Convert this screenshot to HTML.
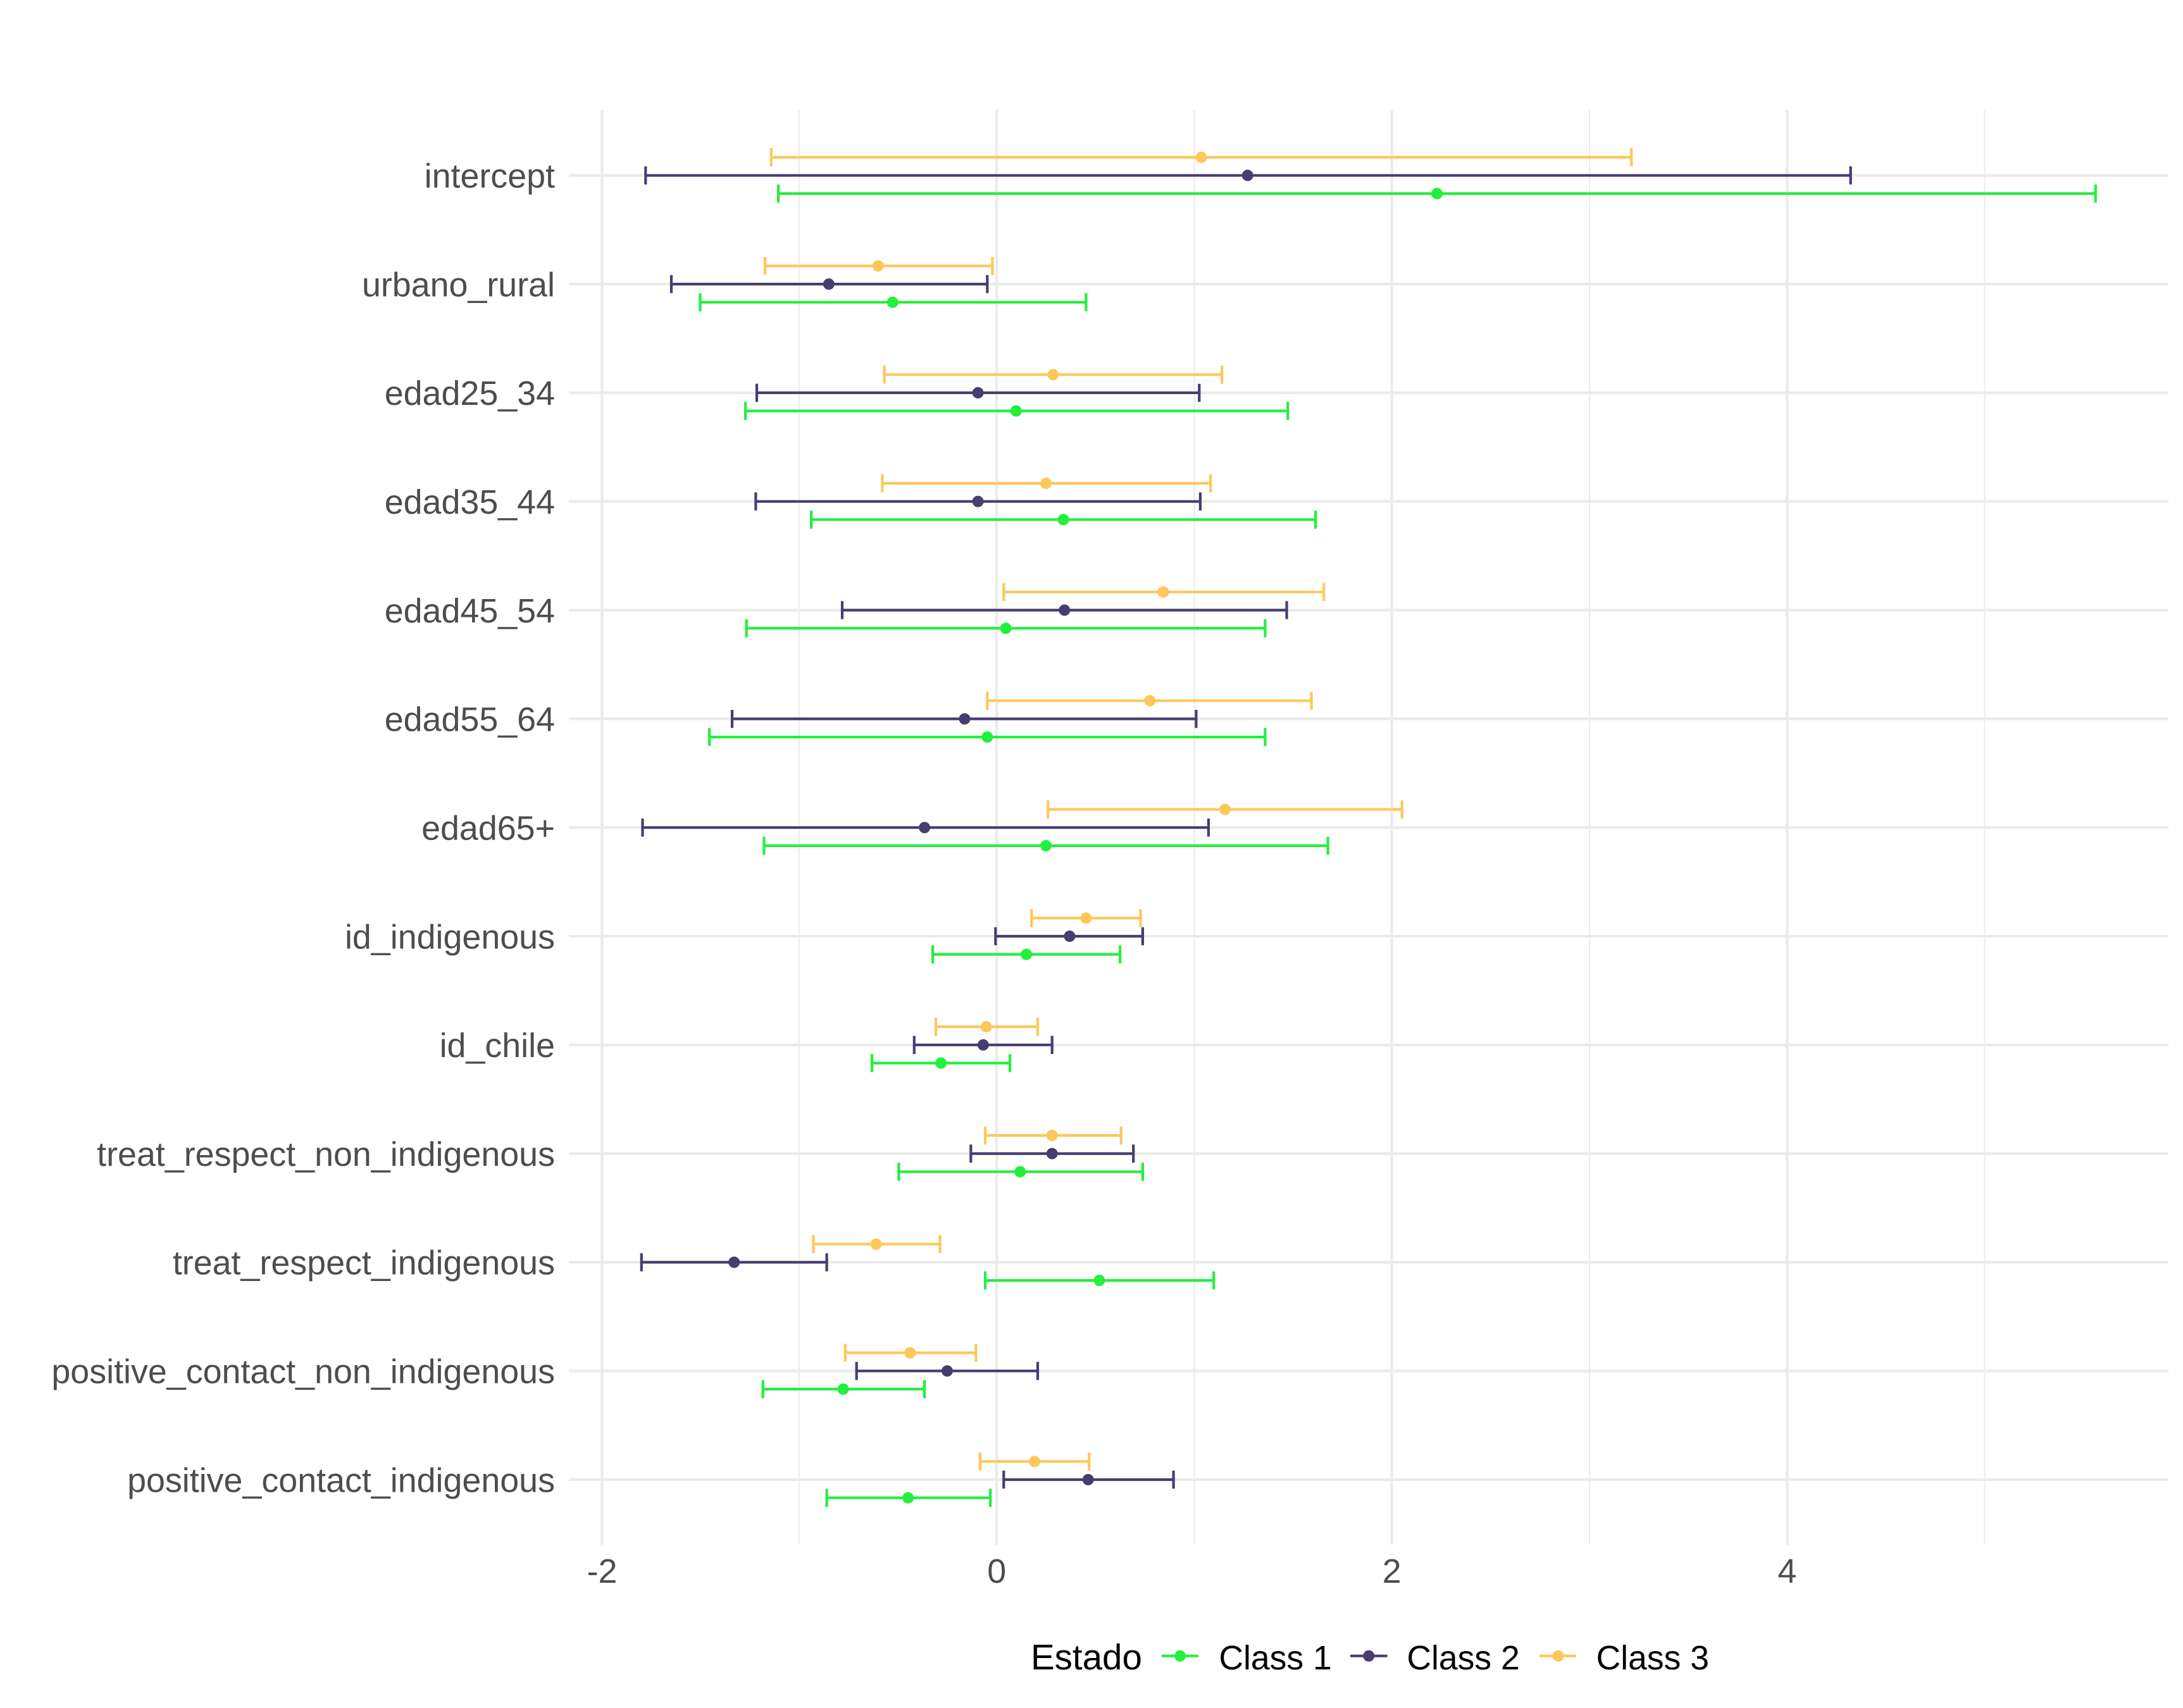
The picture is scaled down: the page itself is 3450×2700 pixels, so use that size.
<!DOCTYPE html>
<html>
<head>
<meta charset="utf-8">
<style>
html,body{margin:0;padding:0;background:#fff;}
svg{display:block;}
text{font-family:"Liberation Sans",Arial,Helvetica,sans-serif;}
</style>
</head>
<body>
<svg width="3450" height="2700" viewBox="0 0 3450 2700" xmlns="http://www.w3.org/2000/svg">
<rect x="0" y="0" width="3450" height="2700" fill="#ffffff"/>

<!-- minor vertical gridlines -->
<g stroke="#EBEBEB" stroke-width="2.1">
<line x1="1263.1" y1="174" x2="1263.1" y2="2442"/>
<line x1="1887.5" y1="174" x2="1887.5" y2="2442"/>
<line x1="2511.9" y1="174" x2="2511.9" y2="2442"/>
<line x1="3136.5" y1="174" x2="3136.5" y2="2442"/>
</g>
<!-- major vertical gridlines -->
<g stroke="#EBEBEB" stroke-width="4.3">
<line x1="951.5" y1="174" x2="951.5" y2="2442"/>
<line x1="1575.2" y1="174" x2="1575.2" y2="2442"/>
<line x1="2199.6" y1="174" x2="2199.6" y2="2442"/>
<line x1="2824.5" y1="174" x2="2824.5" y2="2442"/>
</g>
<!-- horizontal gridlines -->
<g stroke="#EBEBEB" stroke-width="4.3">
<line x1="899" y1="277.3" x2="3427" y2="277.3"/>
<line x1="899" y1="449.1" x2="3427" y2="449.1"/>
<line x1="899" y1="620.9" x2="3427" y2="620.9"/>
<line x1="899" y1="792.7" x2="3427" y2="792.7"/>
<line x1="899" y1="964.5" x2="3427" y2="964.5"/>
<line x1="899" y1="1136.4" x2="3427" y2="1136.4"/>
<line x1="899" y1="1308.2" x2="3427" y2="1308.2"/>
<line x1="899" y1="1480" x2="3427" y2="1480"/>
<line x1="899" y1="1651.8" x2="3427" y2="1651.8"/>
<line x1="899" y1="1823.6" x2="3427" y2="1823.6"/>
<line x1="899" y1="1995.4" x2="3427" y2="1995.4"/>
<line x1="899" y1="2167.2" x2="3427" y2="2167.2"/>
<line x1="899" y1="2339" x2="3427" y2="2339"/>
</g>

<!-- Class 1 (green) -->
<g stroke="#22F03C" stroke-width="4.2" fill="none">
<path d="M1230.1 291.7v28.6m0-14.3H3311.8m0-14.3v28.6"/>
<path d="M1106.5 463.5v28.6m0-14.3H1716.4m0-14.3v28.6"/>
<path d="M1178.1 635.3v28.6m0-14.3H2035.2m0-14.3v28.6"/>
<path d="M1282.2 807.1v28.6m0-14.3H2079.1m0-14.3v28.6"/>
<path d="M1179.7 978.9v28.6m0-14.3H1999.4m0-14.3v28.6"/>
<path d="M1121.2 1150.8v28.6m0-14.3H1999.4m0-14.3v28.6"/>
<path d="M1207.4 1322.6v28.6m0-14.3H2098.6m0-14.3v28.6"/>
<path d="M1474.1 1494.4v28.6m0-14.3H1770.1m0-14.3v28.6"/>
<path d="M1378.1 1666.2v28.6m0-14.3H1596.1m0-14.3v28.6"/>
<path d="M1420.4 1838.0v28.6m0-14.3H1805.9m0-14.3v28.6"/>
<path d="M1557.0 2009.8v28.6m0-14.3H1918.1m0-14.3v28.6"/>
<path d="M1205.7 2181.6v28.6m0-14.3H1461.1m0-14.3v28.6"/>
<path d="M1306.6 2353.4v28.6m0-14.3H1565.2m0-14.3v28.6"/>
</g>
<g fill="#22F03C">
<circle cx="2271.0" cy="306.0" r="9"/>
<circle cx="1410.7" cy="477.8" r="9"/>
<circle cx="1605.8" cy="649.6" r="9"/>
<circle cx="1680.6" cy="821.4" r="9"/>
<circle cx="1589.6" cy="993.2" r="9"/>
<circle cx="1560.3" cy="1165.1" r="9"/>
<circle cx="1653.0" cy="1336.9" r="9"/>
<circle cx="1622.1" cy="1508.7" r="9"/>
<circle cx="1487.1" cy="1680.5" r="9"/>
<circle cx="1612.3" cy="1852.3" r="9"/>
<circle cx="1737.5" cy="2024.1" r="9"/>
<circle cx="1332.6" cy="2195.9" r="9"/>
<circle cx="1435.1" cy="2367.7" r="9"/>
</g>

<!-- Class 2 (purple) -->
<g stroke="#483C71" stroke-width="4.2" fill="none">
<path d="M1020.3 263.0v28.6m0-14.3H2924.7m0-14.3v28.6"/>
<path d="M1061.0 434.8v28.6m0-14.3H1560.3m0-14.3v28.6"/>
<path d="M1196.0 606.6v28.6m0-14.3H1895.3m0-14.3v28.6"/>
<path d="M1194.4 778.4v28.6m0-14.3H1896.9m0-14.3v28.6"/>
<path d="M1331.0 950.2v28.6m0-14.3H2033.5m0-14.3v28.6"/>
<path d="M1157.0 1122.1v28.6m0-14.3H1890.4m0-14.3v28.6"/>
<path d="M1015.5 1293.9v28.6m0-14.3H1909.9m0-14.3v28.6"/>
<path d="M1573.3 1465.7v28.6m0-14.3H1805.9m0-14.3v28.6"/>
<path d="M1444.8 1637.5v28.6m0-14.3H1662.7m0-14.3v28.6"/>
<path d="M1534.3 1809.3v28.6m0-14.3H1791.2m0-14.3v28.6"/>
<path d="M1013.8 1981.1v28.6m0-14.3H1306.6m0-14.3v28.6"/>
<path d="M1353.7 2152.9v28.6m0-14.3H1640.0m0-14.3v28.6"/>
<path d="M1586.3 2324.7v28.6m0-14.3H1854.6m0-14.3v28.6"/>
</g>
<g fill="#483C71">
<circle cx="1971.7" cy="277.3" r="9"/>
<circle cx="1309.8" cy="449.1" r="9"/>
<circle cx="1545.6" cy="620.9" r="9"/>
<circle cx="1545.6" cy="792.7" r="9"/>
<circle cx="1682.3" cy="964.5" r="9"/>
<circle cx="1524.5" cy="1136.4" r="9"/>
<circle cx="1461.1" cy="1308.2" r="9"/>
<circle cx="1690.4" cy="1480.0" r="9"/>
<circle cx="1553.8" cy="1651.8" r="9"/>
<circle cx="1662.7" cy="1823.6" r="9"/>
<circle cx="1160.2" cy="1995.4" r="9"/>
<circle cx="1496.9" cy="2167.2" r="9"/>
<circle cx="1719.7" cy="2339.0" r="9"/>
</g>

<!-- Class 3 (yellow) -->
<g stroke="#FEC75A" stroke-width="4.2" fill="none">
<path d="M1218.8 234.3v28.6m0-14.3H2578.3m0-14.3v28.6"/>
<path d="M1209.0 406.1v28.6m0-14.3H1568.4m0-14.3v28.6"/>
<path d="M1397.6 577.9v28.6m0-14.3H1931.1m0-14.3v28.6"/>
<path d="M1394.4 749.7v28.6m0-14.3H1913.2m0-14.3v28.6"/>
<path d="M1586.3 921.5v28.6m0-14.3H2092.1m0-14.3v28.6"/>
<path d="M1560.3 1093.4v28.6m0-14.3H2072.6m0-14.3v28.6"/>
<path d="M1656.2 1265.2v28.6m0-14.3H2215.7m0-14.3v28.6"/>
<path d="M1630.2 1437.0v28.6m0-14.3H1802.6m0-14.3v28.6"/>
<path d="M1479.0 1608.8v28.6m0-14.3H1640.0m0-14.3v28.6"/>
<path d="M1557.0 1780.6v28.6m0-14.3H1771.7m0-14.3v28.6"/>
<path d="M1285.4 1952.4v28.6m0-14.3H1485.5m0-14.3v28.6"/>
<path d="M1335.8 2124.2v28.6m0-14.3H1542.4m0-14.3v28.6"/>
<path d="M1548.9 2296.0v28.6m0-14.3H1721.3m0-14.3v28.6"/>
</g>
<g fill="#FEC75A">
<circle cx="1898.5" cy="248.6" r="9"/>
<circle cx="1387.9" cy="420.4" r="9"/>
<circle cx="1664.4" cy="592.2" r="9"/>
<circle cx="1653.0" cy="764.0" r="9"/>
<circle cx="1838.4" cy="935.8" r="9"/>
<circle cx="1817.2" cy="1107.7" r="9"/>
<circle cx="1936.0" cy="1279.5" r="9"/>
<circle cx="1716.4" cy="1451.3" r="9"/>
<circle cx="1558.7" cy="1623.1" r="9"/>
<circle cx="1662.7" cy="1794.9" r="9"/>
<circle cx="1384.6" cy="1966.7" r="9"/>
<circle cx="1438.3" cy="2138.5" r="9"/>
<circle cx="1635.1" cy="2310.3" r="9"/>
</g>

<!-- y axis labels -->
<g fill="#4D4D4D" font-size="53.8" text-anchor="end">
<text x="877" y="296.6">intercept</text>
<text x="877" y="468.4">urbano_rural</text>
<text x="877" y="640.2">edad25_34</text>
<text x="877" y="812.0">edad35_44</text>
<text x="877" y="983.8">edad45_54</text>
<text x="877" y="1155.7">edad55_64</text>
<text x="877" y="1327.5">edad65+</text>
<text x="877" y="1499.3">id_indigenous</text>
<text x="877" y="1671.1">id_chile</text>
<text x="877" y="1842.9">treat_respect_non_indigenous</text>
<text x="877" y="2014.7">treat_respect_indigenous</text>
<text x="877" y="2186.5">positive_contact_non_indigenous</text>
<text x="877" y="2358.3">positive_contact_indigenous</text>
</g>

<!-- x axis labels -->
<g fill="#4D4D4D" font-size="53.8" text-anchor="middle">
<text x="951.5" y="2502">-2</text>
<text x="1575.2" y="2502">0</text>
<text x="2199.6" y="2502">2</text>
<text x="2824.5" y="2502">4</text>
</g>

<!-- legend -->
<text x="1629" y="2639" font-size="56.5" fill="#000000">Estado</text>
<line x1="1836" y1="2617.7" x2="1894" y2="2617.7" stroke="#22F03C" stroke-width="4.2"/>
<circle cx="1865" cy="2617.7" r="9" fill="#22F03C"/>
<text x="1926.4" y="2639" font-size="53.5" fill="#000000">Class 1</text>
<line x1="2134" y1="2617.7" x2="2192.6" y2="2617.7" stroke="#483C71" stroke-width="4.2"/>
<circle cx="2163.2" cy="2617.7" r="9" fill="#483C71"/>
<text x="2223.4" y="2639" font-size="53.5" fill="#000000">Class 2</text>
<line x1="2433" y1="2617.7" x2="2491" y2="2617.7" stroke="#FEC75A" stroke-width="4.2"/>
<circle cx="2462.5" cy="2617.7" r="9" fill="#FEC75A"/>
<text x="2522.6" y="2639" font-size="53.5" fill="#000000">Class 3</text>
</svg>
</body>
</html>
